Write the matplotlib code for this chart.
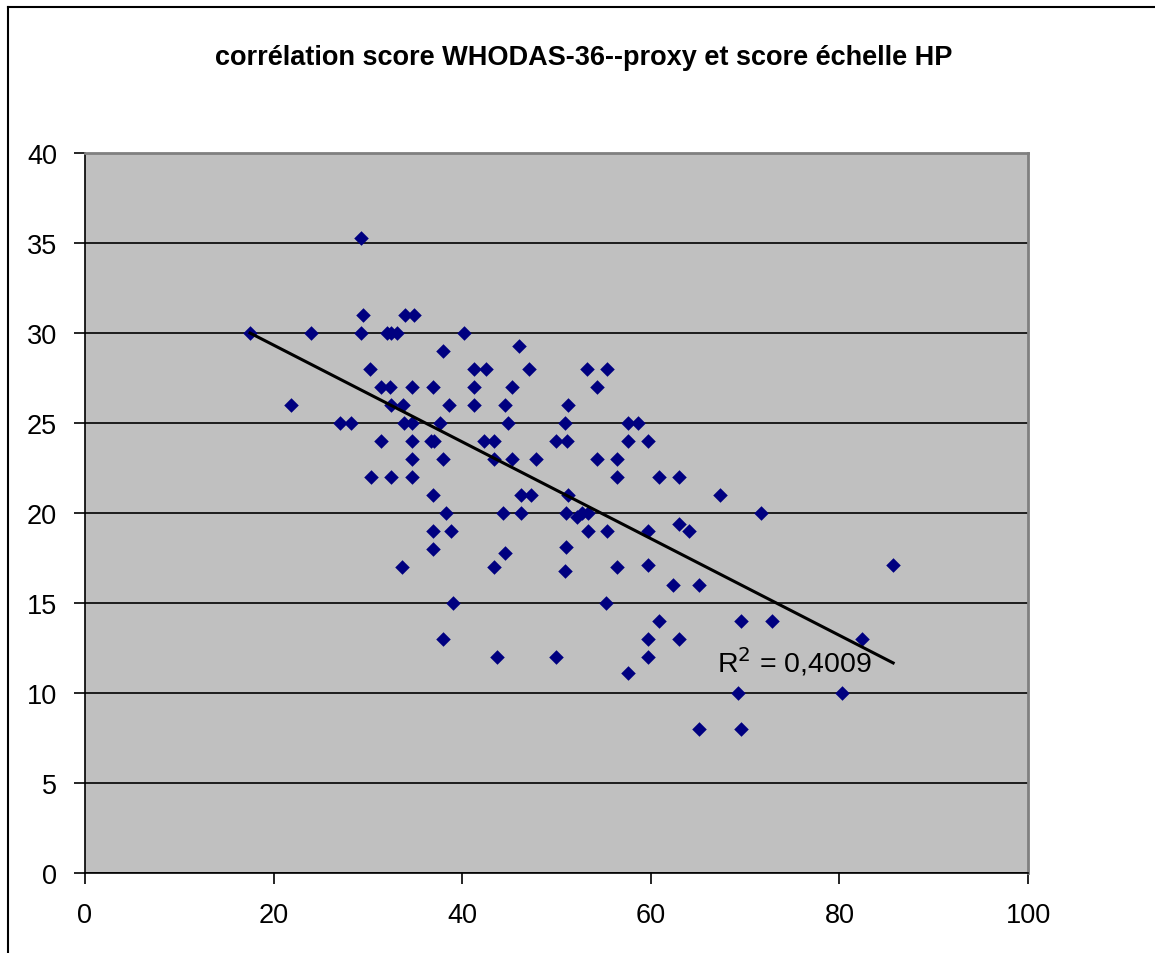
import numpy as np
import matplotlib.pyplot as plt
from matplotlib.lines import Line2D

plt.rcParams['font.family'] = ['Liberation Sans', 'DejaVu Sans']

# score WHODAS-36 proxy (x) et score échelle HP (y)
whodas = [17.5, 21.8, 24.0, 27.0, 28.2, 29.3, 29.5, 29.3, 30.2, 30.3,
          31.4, 31.4, 32.0, 32.5, 33.1, 32.3, 32.5, 32.5, 33.6, 33.9,
          34.9, 33.7, 33.8, 34.7, 34.7, 34.7, 34.7, 34.7, 36.9, 36.7,
          37.0, 36.9, 36.9, 36.9, 37.6, 38.0, 38.0, 38.0, 38.3, 38.6,
          38.8, 39.0, 40.2, 41.3, 42.5, 41.3, 41.3, 42.3, 43.4, 43.4,
          43.4, 43.7, 44.3, 44.5, 44.9, 44.5, 45.3, 45.3, 46.0, 46.2,
          46.2, 47.1, 47.3, 47.8, 49.9, 49.9, 51.1, 50.9, 51.2, 51.2,
          51.0, 51.0, 50.9, 52.2, 52.7, 53.3, 53.2, 53.3, 54.3, 54.3,
          55.4, 55.4, 55.3, 56.4, 56.4, 56.4, 57.6, 57.6, 57.6, 58.6,
          59.7, 59.7, 59.7, 59.7, 59.7, 60.9, 60.9, 62.4, 63.0, 63.0,
          63.0, 64.1, 65.1, 65.1, 67.3, 69.6, 69.2, 69.6, 71.7, 72.9,
          80.3, 82.4, 85.7]
hp = [30, 26, 30, 25, 25, 35.3, 31, 30, 28, 22,
      27, 24, 30, 30, 30, 27, 26, 22, 17, 31,
      31, 26, 25, 25, 27, 24, 23, 22, 27, 24,
      24, 21, 19, 18, 25, 29, 23, 13, 20, 26,
      19, 15, 30, 28, 28, 27, 26, 24, 24, 23,
      17, 12, 20, 26, 25, 17.8, 27, 23, 29.3, 21,
      20, 28, 21, 23, 24, 12, 24, 25, 26, 21,
      20, 18.1, 16.8, 19.8, 20, 20, 28, 19, 27, 23,
      28, 19, 15, 23, 22, 17, 25, 24, 11.1, 25,
      24, 19, 17.1, 13, 12, 22, 14, 16, 22, 19.4,
      13, 19, 16, 8, 21, 14, 10, 8, 20, 14,
      10, 13, 17.1]

# droite de tendance (Excel)
trend_x = [17.5, 85.7]
trend_y = [30.0, 11.67]
r2_text = "R$^2$ = 0,4009"

fig = plt.figure(figsize=(11.55, 9.54), dpi=100)
ax = fig.add_axes([85 / 1155, 80 / 954, 943 / 1155, 720 / 954])
ax.set_facecolor('#C0C0C0')

ax.scatter(whodas, hp, marker='D', s=55, color='#000080', zorder=3, linewidths=0)
ax.plot(trend_x, trend_y, color='black', lw=2.2, zorder=4)
ax.text(67.0, 11.8, r2_text, fontsize=20.5, va='center', ha='left', zorder=5)

ax.set_xlim(0, 100)
ax.set_ylim(0, 40)
ax.set_xticks(np.arange(0, 101, 20))
ax.set_yticks(np.arange(0, 41, 5))
ax.yaxis.grid(True, color='black', lw=1.2)
ax.set_axisbelow(True)
ax.tick_params(labelsize=19.5, length=8, width=1.2, direction='out')
ax.tick_params(axis='x', pad=13)
ax.tick_params(axis='y', pad=12)

for side in ['top', 'right']:
    ax.spines[side].set_color('#808080')
    ax.spines[side].set_linewidth(2)
for side in ['left', 'bottom']:
    ax.spines[side].set_color('black')
    ax.spines[side].set_linewidth(1.2)

fig.text(0.5055, 1 - 58 / 954, "corrélation score WHODAS-36--proxy et score échelle HP",
         fontsize=19.5, fontweight='bold', ha='center', va='center')

# cadre du graphique
fig.add_artist(Line2D([8 / 1155, 8 / 1155], [0, 1 - 8 / 954], color='black', lw=1.5))
fig.add_artist(Line2D([8 / 1155, 1], [1 - 8 / 954, 1 - 8 / 954], color='black', lw=1.5))

fig.savefig('out.png', dpi=100)
